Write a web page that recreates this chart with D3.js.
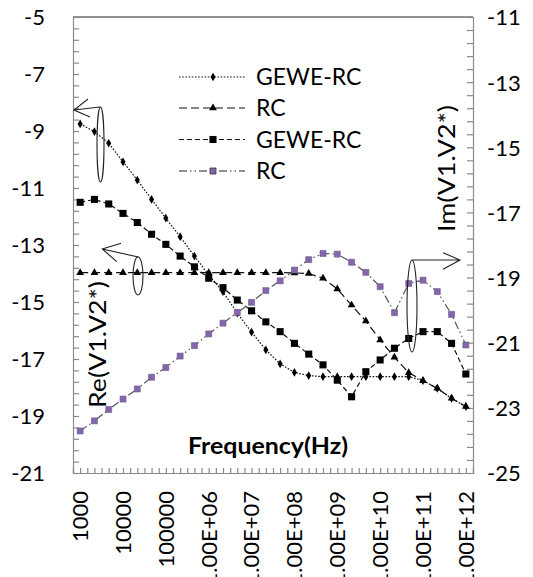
<!DOCTYPE html>
<html><head><meta charset="utf-8">
<script src="https://cdn.jsdelivr.net/npm/d3@7/dist/d3.min.js"></script>
<style>
body{margin:0;background:#fff}
svg{display:block}
text{font-family:Lato,"Open Sans",sans-serif;fill:#000}
</style>
</head><body>
<svg id="chart" width="533" height="577"></svg>
<script>
// ---- data ----
const frequencies = [1000, 2154, 4642, 10000, 21544, 46416, 100000, 215443, 464159,
  1.0e6, 2.154e6, 4.642e6, 1.0e7, 2.154e7, 4.642e7, 1.0e8, 2.154e8, 4.642e8,
  1.0e9, 2.154e9, 4.642e9, 1.0e10, 2.154e10, 4.642e10, 1.0e11, 2.154e11, 4.642e11, 1.0e12];
const labeledFrequencies = [1000, 10000, 100000, 1.0e6, 1.0e7, 1.0e8, 1.0e9, 1.0e10, 1.0e11, 1.0e12];
const tickLabels = ["1000", "10000", "100000", "1.00E+06", "1.00E+07", "1.00E+08", "1.00E+09", "1.00E+10", "1.00E+11", "1.00E+12"];
const leftTicks = [-5, -7, -9, -11, -13, -15, -17, -19, -21];
const rightTicks = [-11, -13, -15, -17, -19, -21, -23, -25];

// Re axis (left)
const gewReValues = [-8.75, -9.02, -9.43, -10.08, -10.72, -11.40, -12.06, -12.71, -13.39, -14.05,
  -14.64, -15.39, -16.06, -16.68, -17.17, -17.47, -17.58, -17.62, -17.62, -17.62,
  -17.62, -17.62, -17.62, -17.62, -17.76, -18.03, -18.38, -18.67];
const rcReValues = [-13.97, -13.97, -13.97, -13.97, -13.97, -13.97, -13.97, -13.97, -13.97, -13.97,
  -13.97, -13.97, -13.97, -13.97, -13.97, -13.98, -14.00, -14.17, -14.54, -15.11,
  -15.67, -16.33, -16.94, -17.48, -17.76, -18.03, -18.38, -18.67];
// Im axis (right)
const gewImValues = [-16.69, -16.60, -16.74, -17.03, -17.31, -17.67, -17.98, -18.34, -18.67, -19.02,
  -19.31, -19.69, -20.02, -20.36, -20.66, -21.02, -21.35, -21.68, -22.15, -22.66,
  -21.89, -21.53, -21.17, -20.87, -20.66, -20.66, -21.02, -21.96];
const rcImValues = [-23.71, -23.40, -23.05, -22.73, -22.42, -22.06, -21.76, -21.41, -21.09, -20.73,
  -20.40, -20.07, -19.76, -19.40, -19.10, -18.77, -18.45, -18.26, -18.28, -18.53,
  -18.84, -19.28, -20.08, -19.18, -19.08, -19.43, -20.13, -21.07];

const seriesNames = ["GEWE-RC", "RC", "GEWE-RC", "RC"];

// ---- layout ----
const L = 73, R = 473, T = 17, B = 473;
const svg = d3.select("#chart");
const x = d3.scaleBand().domain(frequencies).range([L, R]).padding(0);
const yL = d3.scaleLinear().domain([-21, -5]).range([B, T]);
const yR = d3.scaleLinear().domain([-25, -11]).range([B, T]);
const cx = f => x(f) + x.bandwidth() / 2;
const axisGray = "#8a8a8a";

// top border
svg.append("line").attr("x1", L).attr("x2", R).attr("y1", T).attr("y2", T)
  .attr("stroke", "#222").attr("stroke-width", 1);

// left axis minor/major ticks (inside)
const leftMinor = d3.range(0, 41).map(i => -21 + i * 0.4);
const gL = svg.append("g").attr("transform", `translate(${L},0)`)
  .call(d3.axisLeft(yL).tickValues(leftMinor).tickSize(-6).tickFormat(""));
gL.selectAll("path,line").attr("stroke", axisGray).attr("stroke-width", 1.2);
const gLl = svg.append("g").attr("transform", `translate(${L},0)`)
  .call(d3.axisLeft(yL).tickValues(leftTicks).tickSize(0).tickPadding(28).tickFormat(d => d));
gLl.select("path").remove();
gLl.selectAll("text").attr("font-size", 22).attr("dy", "0.36em").style("font-family", "Lato");

// right axis
const rightMinor = d3.range(0, 36).map(i => -25 + i * 0.4);
const gR = svg.append("g").attr("transform", `translate(${R},0)`)
  .call(d3.axisRight(yR).tickValues(rightMinor).tickSize(-6).tickFormat(""));
gR.selectAll("path,line").attr("stroke", axisGray).attr("stroke-width", 1.2);
const gRl = svg.append("g").attr("transform", `translate(${R},0)`)
  .call(d3.axisRight(yR).tickValues(rightTicks).tickSize(0).tickPadding(14).tickFormat(d => d));
gRl.select("path").remove();
gRl.selectAll("text").attr("font-size", 22).attr("dy", "0.36em").style("font-family", "Lato");

// bottom axis: half-category minor ticks inside
const half = d3.scaleLinear().domain([0, frequencies.length * 2]).range([L, R]);
const gB = svg.append("g").attr("transform", `translate(0,${B})`)
  .call(d3.axisBottom(half).tickValues(d3.range(0, frequencies.length * 2 + 1)).tickSize(-5).tickFormat(""));
gB.selectAll("path,line").attr("stroke", axisGray).attr("stroke-width", 1.2);
const labelOf = f => tickLabels[labeledFrequencies.indexOf(f)];
const gBl = svg.append("g").attr("transform", `translate(0,${B})`)
  .call(d3.axisBottom(x).tickValues(labeledFrequencies).tickSize(0).tickFormat(labelOf));
gBl.select("path").remove();
gBl.selectAll("text")
  .attr("font-size", 22).style("font-family", "Lato")
  .attr("text-anchor", "end")
  .attr("transform", "rotate(-90)")
  .attr("x", -18).attr("y", 0).attr("dy", "0.36em");

// ---- series ----
const series = [
  {vals: gewReValues, y: yL, dash: "1.6,1.6", color: "#111", sym: d3.symbolDiamond, size: 22, fill: "#000", stroke: "none"},
  {vals: rcReValues, y: yL, dash: "8,4", color: "#111", sym: d3.symbolTriangle, size: 26, fill: "#000", stroke: "none"},
  {vals: gewImValues, y: yR, dash: "5,3", color: "#111", sym: d3.symbolSquare, size: 50, fill: "#000", stroke: "none"},
  {vals: rcImValues, y: yR, dash: "8,3,1.5,3,1.5,3", color: "#555", sym: d3.symbolSquare, size: 36, fill: "#8466ab", stroke: "#6a5590"}
];
series.forEach(s => {
  const line = d3.line().x((d, i) => cx(frequencies[i])).y(d => s.y(d));
  svg.append("path").datum(s.vals).attr("d", line)
    .attr("fill", "none").attr("stroke", s.color).attr("stroke-width", 1.2)
    .attr("stroke-dasharray", s.dash);
  svg.append("g").selectAll("path").data(s.vals).join("path")
    .attr("d", d3.symbol().type(s.sym).size(s.size))
    .attr("transform", (d, i) => `translate(${cx(frequencies[i])},${s.y(d)})`)
    .attr("fill", s.fill).attr("stroke", s.stroke).attr("stroke-width", 0.6);
});

// ---- legend ----
const legendRows = [77, 108, 139.5, 171];
seriesNames.forEach((name, k) => {
  const s = series[k], yy = legendRows[k];
  svg.append("line").attr("x1", 179).attr("x2", 245).attr("y1", yy).attr("y2", yy)
    .attr("stroke", s.color === "#555" ? "#222" : s.color).attr("stroke-width", 1.2)
    .attr("stroke-dasharray", s.dash);
  svg.append("path").attr("d", d3.symbol().type(s.sym).size(s.size))
    .attr("transform", `translate(213,${yy})`)
    .attr("fill", s.fill).attr("stroke", s.stroke === "none" ? "none" : "#333").attr("stroke-width", 0.8);
  svg.append("text").attr("x", 256).attr("y", yy).attr("dy", "0.36em")
    .attr("font-size", 23).text(name);
});

// ---- axis titles ----
svg.append("text").attr("transform", "translate(106,408) rotate(-90)")
  .attr("font-size", 24).attr("textLength", 127).attr("lengthAdjust", "spacingAndGlyphs")
  .text("Re(V1.V2*)");
svg.append("text").attr("transform", "translate(455,232) rotate(-90)")
  .attr("font-size", 24).attr("textLength", 127).attr("lengthAdjust", "spacingAndGlyphs")
  .text("Im(V1.V2*)");
svg.append("text").attr("x", 188).attr("y", 454)
  .attr("font-size", 23).attr("font-weight", "bold")
  .attr("textLength", 160).attr("lengthAdjust", "spacingAndGlyphs")
  .text("Frequency(Hz)");

// ---- annotations (ellipses + arrows) ----
const ann = svg.append("g").attr("fill", "none").attr("stroke", "#222").attr("stroke-width", 1.1);
ann.append("ellipse").attr("cx", 100.5).attr("cy", 144.5).attr("rx", 3.5).attr("ry", 37.5);
ann.append("path").attr("d", "M100,107 L74,110 M88,99 L74,110 L90,117");
ann.append("ellipse").attr("cx", 138).attr("cy", 276).attr("rx", 5).attr("ry", 19);
ann.append("path").attr("d", "M138.3,257 L102.3,249 M121,243.3 L102.3,249 L116.7,261.7");
ann.append("ellipse").attr("cx", 412).attr("cy", 306).attr("rx", 5).attr("ry", 46);
ann.append("path").attr("d", "M412,260 L460,260 M443,252.7 L460,260 L443,269.3");
</script>
</body></html>
